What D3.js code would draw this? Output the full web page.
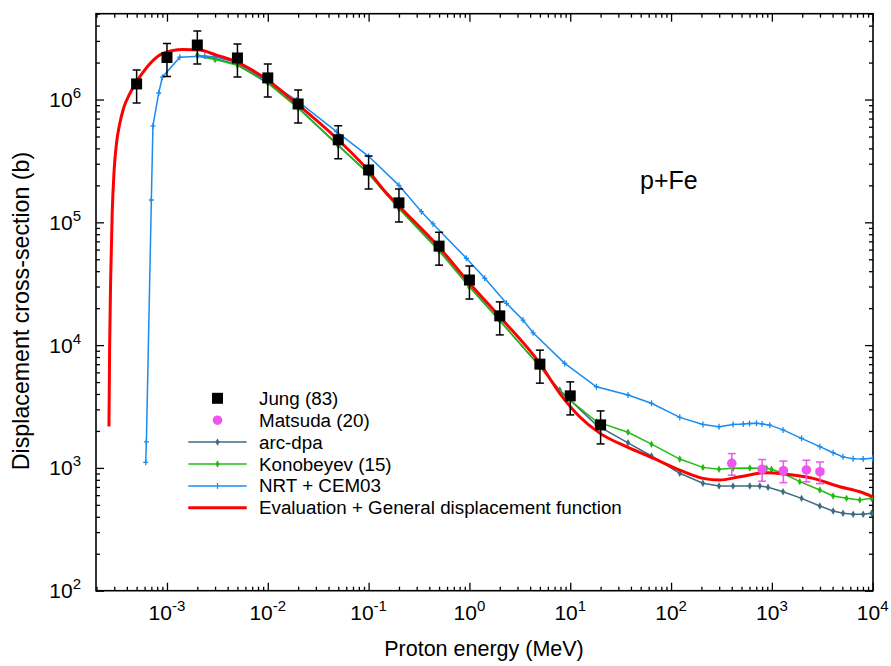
<!DOCTYPE html>
<html>
<head>
<meta charset="utf-8">
<script src="https://cdn.jsdelivr.net/npm/d3@7"></script>
<style>
  html, body { margin: 0; padding: 0; background: #ffffff; }
  svg { display: block; font-family: "Liberation Sans", Arial, sans-serif; }
</style>
</head>
<body>
<svg id="chart" width="891" height="666"></svg>
<script>
// ---------------- data ----------------
const xTickExponents = ["-3", "-2", "-1", "0", "1", "2", "3", "4"];
const yTickExponents = ["2", "3", "4", "5", "6"];

// Jung (83): energy (MeV), cross-section (b); error = 30 %
const jungE = [5e-4, 1e-3, 2e-3, 5e-3, 1e-2, 2e-2, 5e-2, 0.1, 0.2, 0.5, 1, 2, 5, 10, 20];
const jungS = [1.34e6, 2.2e6, 2.78e6, 2.18e6, 1.5e6, 9.2e5, 4.7e5, 2.67e5, 1.44e5, 6.4e4, 3.39e4, 1.73e4, 7.0e3, 3.86e3, 2.24e3];
const jungRelErr = 0.3;

// Matsuda (20)
const matsudaE = [400, 800, 1300, 2200, 3000];
const matsudaS = [1090, 975, 948, 962, 931];
const matsudaRelErr = 0.2;

// arc-dpa
const arcE = [2e-3, 3e-3, 5e-3, 1e-2, 2e-2, 5e-2, 0.1, 0.2, 0.5, 1, 2, 5, 7.87, 18.2, 37.4, 64, 122, 207, 299, 412, 604, 759, 916, 1290, 1970, 2990, 4050, 5080, 6400, 8040, 9730];
const arcS = [2.30e6, 2.15e6, 1.93e6, 1.38e6, 8.6e5, 4.25e5, 2.5e5, 1.3e5, 5.9e4, 3.0e4, 1.59e4, 6.7e3, 4.3e3, 2230, 1600, 1250, 904, 750, 713, 713, 713, 713, 695, 640, 565, 490, 446, 427, 419, 419, 427];

// Konobeyev (15)
const konE = [2e-3, 3e-3, 5e-3, 1e-2, 2e-2, 5e-2, 0.1, 0.2, 0.5, 1, 2, 5, 7.87, 18.2, 37.4, 64, 122, 207, 299, 412, 604, 883, 991, 1290, 1890, 2990, 4050, 5500, 7450, 9730];
const konS = [2.25e6, 2.12e6, 1.9e6, 1.36e6, 8.5e5, 4.2e5, 2.48e5, 1.29e5, 5.85e4, 2.98e4, 1.58e4, 6.7e3, 4.17e3, 2380, 1950, 1560, 1180, 1010, 975, 993, 1000, 993, 975, 904, 773, 661, 590, 565, 548, 565];

// NRT + CEM03
const nrtE = [6.15e-4, 6.25e-4, 7.0e-4, 7.26e-4, 8.28e-4, 9.0e-4, 1.34e-3, 2.37e-3, 3.0e-3, 5e-3, 8.95e-3, 1.92e-2, 4.8e-2, 0.1, 0.2, 0.334, 0.436, 0.933, 1.42, 2.33, 3.4, 4.28, 8.81, 18.2, 37.4, 64, 122, 207, 299, 412, 520, 600, 703, 800, 953, 1290, 1970, 2990, 4050, 5070, 6400, 8040, 10000];
const nrtS = [1.11e3, 1.63e3, 1.52e5, 6.1e5, 1.13e6, 1.52e6, 2.21e6, 2.26e6, 2.22e6, 2.0e6, 1.49e6, 9.9e5, 5.47e5, 3.45e5, 2.0e5, 1.22e5, 9.7e4, 5.1e4, 3.5e4, 2.19e4, 1.6e4, 1.26e4, 7.1e3, 4.58e3, 3.93e3, 3.36e3, 2.58e3, 2.26e3, 2.16e3, 2.26e3, 2.28e3, 2.3e3, 2.31e3, 2.28e3, 2.23e3, 2.04e3, 1.74e3, 1.49e3, 1.33e3, 1.23e3, 1.19e3, 1.18e3, 1.2e3];

// Evaluation + General displacement function
const evalE = [2.658e-4, 2.70e-4, 2.763e-4, 2.859e-4, 2.993e-4, 3.17e-4, 3.396e-4, 3.718e-4, 4.266e-4, 4.892e-4, 5.61e-4, 6.734e-4, 9.1e-4, 1.44e-3, 2.11e-3, 3.09e-3, 4.88e-3, 8.95e-3, 1.92e-2, 4.8e-2, 9.5e-2, 0.15, 0.203, 0.497, 1.007, 2.0, 4.99, 7.87, 12.4, 19.6, 36.1, 66.2, 122, 207, 304, 480, 883, 1400, 2560, 4710, 7450, 10000];
const evalS = [2.17e3, 9.65e3, 3.39e4, 1.15e5, 2.67e5, 4.51e5, 6.32e5, 8.53e5, 1.11e6, 1.36e6, 1.61e6, 1.95e6, 2.38e6, 2.56e6, 2.53e6, 2.30e6, 2.03e6, 1.53e6, 9.3e5, 4.84e5, 2.75e5, 1.73e5, 1.34e5, 6.3e4, 3.18e4, 1.7e4, 7.1e3, 4.05e3, 2.61e3, 1.92e3, 1.49e3, 1.2e3, 960, 822, 796, 847, 914, 887, 822, 703, 640, 582];

const legendLabels = ["Jung (83)", "Matsuda (20)", "arc-dpa", "Konobeyev (15)", "NRT + CEM03", "Evaluation + General displacement function"];

// ---------------- layout ----------------
const svg = d3.select("#chart");
const L = 96, R = 873, T = 13.7, B = 590.7;
const x = d3.scaleLog().domain([2e-4, 1e4]).range([96.5, 872.7]);
const y = d3.scaleLog().domain([1e2, 5e6]).range([B, T]);

const colors = {
  jung: "#000000", matsuda: "#ee55ee", arc: "#3e6a82",
  kon: "#22bb11", nrt: "#1a8cf0", eval: "#ff0000"
};

const zip = (a, b) => a.map((e, i) => ({ e: e, s: b[i] }));

svg.append("defs").append("clipPath").attr("id", "clip")
  .append("rect").attr("x", L).attr("y", T).attr("width", R - L).attr("height", B - T);

// ---------------- axes ticks ----------------
const xAll = x.ticks();
const xMajor = xAll.filter(v => Math.abs(Math.log10(v) - Math.round(Math.log10(v))) < 1e-9);
const xMinor = xAll.filter(v => !xMajor.includes(v));
const yAll = y.ticks();
const yMajor = yAll.filter(v => Math.abs(Math.log10(v) - Math.round(Math.log10(v))) < 1e-9);
const yMinor = yAll.filter(v => !yMajor.includes(v));

function addAxis(axisFn, scale, vals, size, transform) {
  const g = svg.append("g").attr("transform", transform)
    .call(axisFn(scale).tickValues(vals).tickSize(size).tickSizeOuter(0).tickFormat(""));
  g.select(".domain").remove();
  g.selectAll(".tick line").attr("stroke", "#000").attr("stroke-width", 1.3);
}
addAxis(d3.axisBottom, x, xMajor, -8, `translate(0,${B})`);
addAxis(d3.axisBottom, x, xMinor, -4, `translate(0,${B})`);
addAxis(d3.axisTop, x, xMajor, -8, `translate(0,${T})`);
addAxis(d3.axisTop, x, xMinor, -4, `translate(0,${T})`);
addAxis(d3.axisLeft, y, yMajor, -8, `translate(${L},0)`);
addAxis(d3.axisLeft, y, yMinor, -4, `translate(${L},0)`);
addAxis(d3.axisRight, y, yMajor, -8, `translate(${R},0)`);
addAxis(d3.axisRight, y, yMinor, -4, `translate(${R},0)`);

svg.append("rect").attr("x", L).attr("y", T).attr("width", R - L).attr("height", B - T)
  .attr("fill", "none").attr("stroke", "#000").attr("stroke-width", 1.6);

// tick labels
xMajor.forEach((v, i) => {
  const t = svg.append("text").attr("x", x(v)).attr("y", 620)
    .attr("text-anchor", "middle").attr("font-size", 21).attr("fill", "#000");
  t.append("tspan").text("10");
  t.append("tspan").attr("font-size", 15).attr("dy", -9).text(xTickExponents[i]);
});
yMajor.forEach((v, i) => {
  const t = svg.append("text").attr("x", 81).attr("y", y(v) + 7.5)
    .attr("text-anchor", "end").attr("font-size", 21).attr("fill", "#000");
  t.append("tspan").text("10");
  t.append("tspan").attr("font-size", 15).attr("dy", -9).text(yTickExponents[i]);
});

// axis titles
svg.append("text").attr("x", 484).attr("y", 656).attr("text-anchor", "middle")
  .attr("font-size", 21.5).text("Proton energy (MeV)");
svg.append("text").attr("transform", "translate(28.5,311) rotate(-90)").attr("text-anchor", "middle")
  .attr("font-size", 23.2).text("Displacement cross-section (b)");

svg.append("text").attr("x", 640).attr("y", 189).attr("font-size", 25).text("p+Fe");

// ---------------- series ----------------
const plot = svg.append("g").attr("clip-path", "url(#clip)");
const line = d3.line().x(d => x(d.e)).y(d => y(d.s));
const smooth = d3.line().x(d => x(d.e)).y(d => y(d.s)).curve(d3.curveMonotoneX);

const diamond = d3.symbol().type(d3.symbolDiamond).size(16);

function drawLineSeries(data, color, markerType) {
  plot.append("path").datum(data).attr("d", line)
    .attr("fill", "none").attr("stroke", color).attr("stroke-width", 1.5);
  if (markerType === "diamond") {
    plot.selectAll(null).data(data).enter().append("path")
      .attr("transform", d => `translate(${x(d.e)},${y(d.s)})`)
      .attr("d", diamond).attr("fill", color);
  } else {
    plot.selectAll(null).data(data).enter().append("path")
      .attr("transform", d => `translate(${x(d.e)},${y(d.s)})`)
      .attr("d", "M-2.5,0H2.5M0,-3V3").attr("stroke", color).attr("stroke-width", 1.3);
  }
}

drawLineSeries(zip(arcE, arcS), colors.arc, "diamond");
drawLineSeries(zip(konE, konS), colors.kon, "diamond");
drawLineSeries(zip(nrtE, nrtS), colors.nrt, "plus");

plot.append("path").datum(zip(evalE, evalS)).attr("d", smooth)
  .attr("fill", "none").attr("stroke", colors.eval).attr("stroke-width", 3);

// error bars
function errorBars(data, rel, color, w) {
  const g = plot.append("g").attr("stroke", color).attr("stroke-width", 1.5);
  data.forEach(d => {
    const cx = x(d.e), y1 = y(d.s * (1 + rel)), y0 = y(d.s * (1 - rel));
    g.append("line").attr("x1", cx).attr("x2", cx).attr("y1", y1).attr("y2", y0);
    g.append("line").attr("x1", cx - w).attr("x2", cx + w).attr("y1", y1).attr("y2", y1);
    g.append("line").attr("x1", cx - w).attr("x2", cx + w).attr("y1", y0).attr("y2", y0);
  });
}
const jung = zip(jungE, jungS);
errorBars(jung, jungRelErr, colors.jung, 4);
plot.selectAll(null).data(jung).enter().append("rect")
  .attr("x", d => x(d.e) - 5.5).attr("y", d => y(d.s) - 5.5)
  .attr("width", 11).attr("height", 11).attr("fill", colors.jung);

const mats = zip(matsudaE, matsudaS);
errorBars(mats, matsudaRelErr, colors.matsuda, 4);
plot.selectAll(null).data(mats).enter().append("circle")
  .attr("cx", d => x(d.e)).attr("cy", d => y(d.s)).attr("r", 4.8).attr("fill", colors.matsuda);

// ---------------- legend ----------------
const lg = svg.append("g");
const ly0 = 398.3, ldy = 21.9, lx1 = 188.3, lx2 = 246.7, lxm = 217.5, ltx = 259;
legendLabels.forEach((lab, i) => {
  const yy = ly0 + i * ldy;
  if (i === 0) {
    lg.append("rect").attr("x", lxm - 5.5).attr("y", yy - 5.5).attr("width", 11).attr("height", 11).attr("fill", colors.jung);
  } else if (i === 1) {
    lg.append("circle").attr("cx", lxm).attr("cy", yy).attr("r", 4.8).attr("fill", colors.matsuda);
  } else {
    const c = [colors.arc, colors.kon, colors.nrt, colors.eval][i - 2];
    lg.append("line").attr("x1", lx1).attr("x2", lx2).attr("y1", yy).attr("y2", yy)
      .attr("stroke", c).attr("stroke-width", i === 5 ? 3 : 1.5);
    if (i === 2 || i === 3) {
      lg.append("path").attr("transform", `translate(${lxm},${yy})`).attr("d", diamond).attr("fill", c);
    } else if (i === 4) {
      lg.append("path").attr("transform", `translate(${lxm},${yy})`).attr("d", "M0,-3V3")
        .attr("stroke", c).attr("stroke-width", 1.3);
    }
  }
  lg.append("text").attr("x", ltx).attr("y", yy + 6.5).attr("font-size", 18.8).text(lab);
});
</script>
</body>
</html>
